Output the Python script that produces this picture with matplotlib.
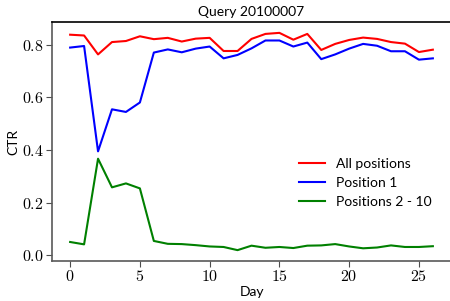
import matplotlib
matplotlib.use("Agg")
import matplotlib.pyplot as plt
import numpy as np

days = np.arange(27)
all_positions = [0.839, 0.836, 0.764, 0.811, 0.815, 0.833, 0.822, 0.827, 0.813, 0.824,
                 0.827, 0.777, 0.777, 0.823, 0.842, 0.846, 0.820, 0.842, 0.781, 0.804,
                 0.819, 0.828, 0.823, 0.811, 0.805, 0.773, 0.782]
position_1 = [0.790, 0.796, 0.395, 0.555, 0.545, 0.581, 0.771, 0.783, 0.772, 0.786,
              0.794, 0.749, 0.762, 0.787, 0.817, 0.817, 0.794, 0.809, 0.746, 0.764,
              0.786, 0.804, 0.797, 0.776, 0.776, 0.744, 0.749]
positions_2_10 = [0.050, 0.041, 0.367, 0.258, 0.273, 0.254, 0.054, 0.043, 0.042, 0.038,
                  0.033, 0.031, 0.019, 0.036, 0.028, 0.031, 0.027, 0.036, 0.037, 0.042,
                  0.033, 0.026, 0.029, 0.037, 0.031, 0.031, 0.034]

plt.rcParams['font.family'] = ['Lato', 'DejaVu Sans']
plt.rcParams['mathtext.fontset'] = 'cm'

fig = plt.figure(figsize=(4.5, 3.01), dpi=100)
ax = fig.add_axes([52/450, 1-261/301, 399/450, 239/301])

ax.plot(days, all_positions, color='red', lw=1.5, label='All positions')
ax.plot(days, position_1, color='blue', lw=1.5, label='Position 1')
ax.plot(days, positions_2_10, color='green', lw=1.5, label='Positions 2 - 10')

ax.set_xticks([0, 5, 10, 15, 20, 25])
ax.set_yticks([0.0, 0.2, 0.4, 0.6, 0.8])
ax.xaxis.set_major_formatter(plt.FuncFormatter(lambda v, p: r'$%d$' % v))
ax.yaxis.set_major_formatter(plt.FuncFormatter(lambda v, p: r'$%.1f$' % v))
ax.tick_params(labelsize=11.5, length=4, pad=2, color='0.3')

for s in ['left', 'bottom']:
    ax.spines[s].set_color('0.35')
    ax.spines[s].set_linewidth(1.2)
ax.spines['top'].set_color('black')
ax.spines['top'].set_linewidth(1.2)
ax.spines['right'].set_visible(False)

ax.set_title('Query 20100007', fontsize=10, pad=4)
ax.set_xlabel('Day', fontsize=10, labelpad=1)
ax.set_ylabel('CTR', fontsize=10, labelpad=2)
ax.legend(frameon=False, fontsize=10, loc='center left', bbox_to_anchor=(0.587, 0.326),
          handlelength=1.9)

fig.savefig('out.png', dpi=100)
